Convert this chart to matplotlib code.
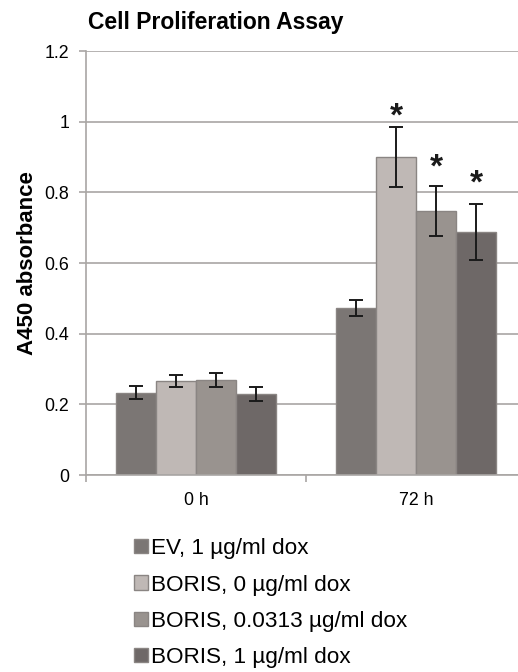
import numpy as np
import matplotlib.pyplot as plt
from matplotlib.patches import Patch

plt.rcParams['font.family'] = ['Liberation Sans', 'DejaVu Sans']

groups = ['0 h', '72 h']
series = ['EV, 1 µg/ml dox', 'BORIS, 0 µg/ml dox',
          'BORIS, 0.0313 µg/ml dox', 'BORIS, 1 µg/ml dox']
values = [[0.233, 0.473],
          [0.266, 0.901],
          [0.269, 0.747],
          [0.229, 0.688]]
errors = [[0.018, 0.022],
          [0.016, 0.085],
          [0.021, 0.072],
          [0.020, 0.080]]
# significance stars at 72 h (series index, y of the star)
stars = [(1, 1.013), (2, 0.869), (3, 0.823)]

colors = ['#7b7674', '#bfb8b5', '#99938f', '#6e6867']
edge = '#8a8583'
grey = '#a9a6a4'

fig = plt.figure(figsize=(5.18, 6.72), dpi=100)
ax = fig.add_axes([86/518, 1-475/672, 440/518, (475-51)/672])

x = np.arange(len(groups))
w = 0.182
for i in range(4):
    pos = x + (i - 1.5) * w
    ax.bar(pos, values[i], w, color=colors[i], edgecolor=edge, linewidth=1, zorder=2)
    ax.errorbar(pos, values[i], yerr=errors[i], fmt='none', ecolor='#1a1a1a',
                elinewidth=1.4, capsize=5, capthick=1.4, zorder=3)

for i, yv in stars:
    ax.text(1 + (i - 1.5) * w, yv, '*', ha='center', va='center',
            fontsize=24, fontweight='bold', color='#1a1a1a')

ax.set_xlim(-0.5, 1.5)
ax.set_ylim(0, 1.2)
ax.set_yticks([0, 0.2, 0.4, 0.6, 0.8, 1, 1.2])
ax.set_yticklabels(['0', '0.2', '0.4', '0.6', '0.8', '1', '1.2'])
ax.yaxis.grid(True, color=grey, linewidth=1.2, zorder=0)
ax.set_axisbelow(True)
ax.set_xticks(x)
ax.set_xticklabels(groups)
ax.set_xticks([-0.5, 0.5, 1.5], minor=True)
ax.tick_params(axis='x', which='major', length=0, labelsize=12.8, pad=12)
ax.tick_params(axis='x', which='minor', length=5, color=grey, width=1.2)
ax.tick_params(axis='y', length=5, color=grey, width=1.2, labelsize=12.8, pad=7)
for s in ['top', 'right']:
    ax.spines[s].set_visible(False)
for s in ['left', 'bottom']:
    ax.spines[s].set_color(grey)
    ax.spines[s].set_linewidth(1.2)
ax.set_ylabel('A450 absorbance', fontsize=16, fontweight='bold', labelpad=5)

fig.text(88/518, 1-22/672, 'Cell Proliferation Assay', fontsize=16.5,
         fontweight='bold', ha='left', va='center')

handles = [Patch(facecolor=c, edgecolor=edge) for c in colors]
fig.legend(handles, series, loc='upper left', bbox_to_anchor=(114/518, 1-518/672),
           frameon=False, fontsize=16.2, handlelength=0.6, handleheight=0.6,
           handletextpad=0.15, labelspacing=0.68)

fig.savefig('out.png', dpi=100)
